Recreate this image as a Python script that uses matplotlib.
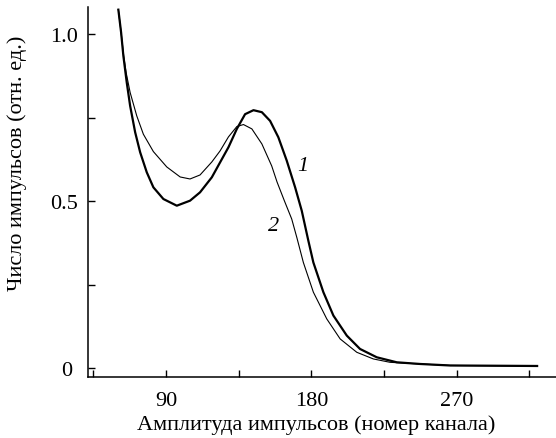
import matplotlib
matplotlib.use("Agg")
import matplotlib.pyplot as plt
from matplotlib.transforms import ScaledTranslation

# curve 1 (thick line)
x1 = [60.4, 62.1, 63.5, 65.6, 67.7, 70.8, 73.9, 78.0, 82.1, 88.3, 96.6, 104.8,
      111.0, 118.3, 128.6, 133.8, 138.9, 144.1, 149.3, 154.4, 159.5, 164.7,
      169.9, 174.0, 178.1, 181.2, 187.4, 193.6, 201.9, 210.1, 220.5, 232.9,
      247.3, 265.9, 319.8]
y1 = [1.073, 1.005, 0.935, 0.855, 0.785, 0.706, 0.646, 0.586, 0.541, 0.506, 0.486,
      0.501, 0.526, 0.571, 0.661, 0.716, 0.760, 0.772, 0.766, 0.740, 0.691, 0.621,
      0.541, 0.471, 0.381, 0.316, 0.227, 0.157, 0.097, 0.057, 0.032, 0.017,
      0.012, 0.0075, 0.006]

# curve 2 (thin line)
x2 = [60.4, 62.1, 63.7, 65.2, 67.7, 71.8, 75.9, 82.1, 90.4, 98.7, 104.8, 111.0,
      118.3, 123.4, 128.6, 133.8, 137.9, 143.1, 149.3, 155.4, 158.7, 163.3,
      167.8, 171.0, 175.0, 181.2, 189.5, 197.8, 208.1, 218.4, 228.7, 247.3,
      265.9, 319.8]
y2 = [1.073, 1.005, 0.935, 0.885, 0.825, 0.755, 0.700, 0.648, 0.602, 0.572, 0.566,
      0.578, 0.617, 0.650, 0.692, 0.723, 0.729, 0.716, 0.671, 0.605, 0.557, 0.500,
      0.446, 0.390, 0.316, 0.227, 0.147, 0.087, 0.047, 0.027, 0.017, 0.012,
      0.0075, 0.006]

xticks = [45, 90, 135, 180, 225, 270, 315]
xticklabels = ['', '90', '', '180', '', '270', '']
yticks = [0, 0.25, 0.5, 0.75, 1.0]
yticklabels = ['0', '', '0.5', '', '1.0']

plt.rcParams['font.family'] = ['Liberation Serif', 'DejaVu Serif']

fig = plt.figure(figsize=(5.56, 4.39), dpi=100)
ax = fig.add_axes([88 / 556, 1 - 378 / 439, 1 - 88 / 556, (378 - 8) / 439])

ax.plot(x1, y1, color='black', lw=1.6, solid_joinstyle='round')
ax.plot(x2, y2, color='black', lw=0.8, solid_joinstyle='round')

ax.set_xlim(41.6, 331.5)
ax.set_ylim(-0.027, 1.081)

ax.set_xticks(xticks)
ax.set_xticklabels(xticklabels)
ax.set_yticks(yticks)
ax.set_yticklabels(yticklabels)
ax.tick_params(direction='in', length=5, width=1, labelsize=16, color='black')
ax.tick_params(axis='x', pad=10)
ax.tick_params(axis='y', pad=7)

# the "0" label sits a little further left in the original
lab0 = ax.get_yticklabels()[0]
lab0.set_transform(lab0.get_transform() + ScaledTranslation(-0.06, 0, fig.dpi_scale_trans))

for s in ['top', 'right']:
    ax.spines[s].set_visible(False)
for s in ['left', 'bottom']:
    ax.spines[s].set_linewidth(1.1)

ax.text(174.9, 0.606, '1', fontsize=16, style='italic', ha='center', va='center')
ax.text(156.4, 0.426, '2', fontsize=16, style='italic', ha='center', va='center')

fig.text(316 / 556, 1 - 425 / 439, 'Амплитуда импульсов (номер канала)',
         fontsize=16, ha='center', va='center')
fig.text(17 / 556, 1 - 163 / 439, 'Число импульсов (отн. ед.)',
         fontsize=16, ha='center', va='center', rotation=90)

fig.savefig('out.png', dpi=100)
